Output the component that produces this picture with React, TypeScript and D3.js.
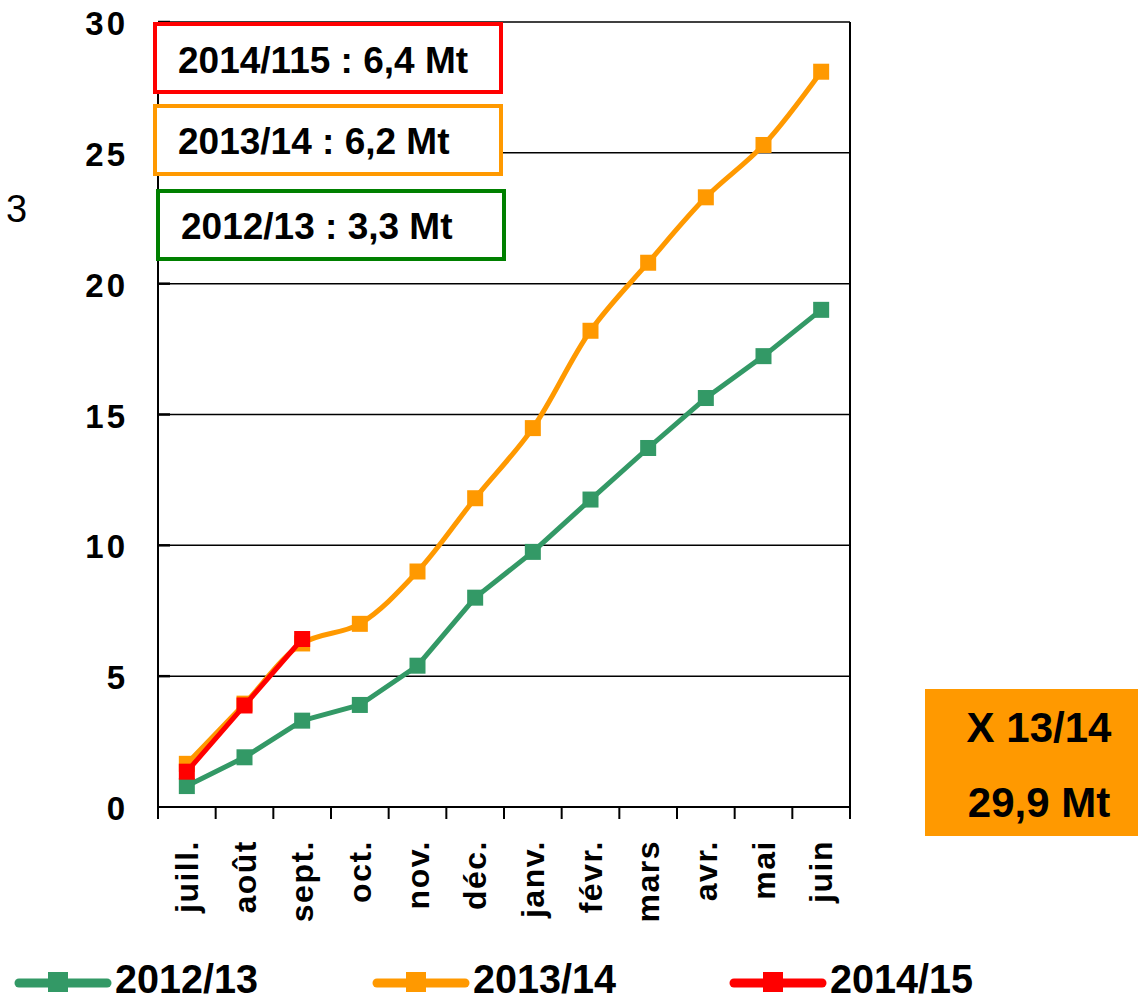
import React, { useEffect, useRef } from "react";
import * as d3 from "d3";

const months = ["juill.", "août", "sept.", "oct.", "nov.", "déc.", "janv.", "févr.", "mars", "avr.", "mai", "juin"];
const values1213 = [0.8, 1.9, 3.3, 3.9, 5.4, 8.0, 9.75, 11.75, 13.72, 15.63, 17.23, 19.0];
const values1314 = [1.65, 3.95, 6.25, 7.0, 9.0, 11.8, 14.48, 18.2, 20.8, 23.3, 25.3, 28.1];
const values1415 = [1.35, 3.88, 6.42];
const yTicks = [0, 5, 10, 15, 20, 25, 30];

const series = [
  { name: "2012/13", values: values1213, color: "#339966", smooth: false },
  { name: "2013/14", values: values1314, color: "#FF9900", smooth: true },
  { name: "2014/15", values: values1415, color: "#FF0000", smooth: false },
];

const boxes = [
  { label: "2014/115 : 6,4 Mt", color: "#FF0000", x: 153, y: 22, tx: 178, ty: 73 },
  { label: "2013/14 : 6,2 Mt", color: "#FF9900", x: 153, y: 104, tx: 178, ty: 154 },
  { label: "2012/13 : 3,3 Mt", color: "#008000", x: 156, y: 189, tx: 181, ty: 239 },
];

const App = () => {
  const ref = useRef<SVGSVGElement>(null);

  useEffect(() => {
    const svg = d3.select(ref.current);
    svg.selectAll("*").remove();

    const left = 158, right = 850, top = 22, bottom = 807;
    const x = d3.scaleBand().domain(months).range([left, right]);
    const y = d3.scaleLinear().domain([0, 30]).range([bottom, top]);
    const font = "Arial, 'Liberation Sans', sans-serif";

    // gridlines
    svg.append("g")
      .selectAll("line")
      .data(yTicks.filter((d) => d > 0))
      .enter()
      .append("line")
      .attr("x1", left)
      .attr("x2", right)
      .attr("y1", (d) => y(d))
      .attr("y2", (d) => y(d))
      .attr("stroke", "#000")
      .attr("stroke-width", 1.5);
    svg.append("g")
      .selectAll("line")
      .data(yTicks.filter((d) => d > 0))
      .enter()
      .append("line")
      .attr("x1", left)
      .attr("x2", left + 12)
      .attr("y1", (d) => y(d))
      .attr("y2", (d) => y(d))
      .attr("stroke", "#000")
      .attr("stroke-width", 2.5);

    // frame
    svg.append("line").attr("x1", left).attr("x2", left).attr("y1", top).attr("y2", bottom + 12)
      .attr("stroke", "#000").attr("stroke-width", 2);
    svg.append("line").attr("x1", right).attr("x2", right).attr("y1", top).attr("y2", bottom + 12)
      .attr("stroke", "#000").attr("stroke-width", 2);
    svg.append("line").attr("x1", left).attr("x2", right).attr("y1", bottom).attr("y2", bottom)
      .attr("stroke", "#000").attr("stroke-width", 2);

    // x ticks
    const edges = months.map((m) => x(m) as number).concat([right]);
    svg.append("g")
      .selectAll("line")
      .data(edges)
      .enter()
      .append("line")
      .attr("x1", (d) => d)
      .attr("x2", (d) => d)
      .attr("y1", bottom)
      .attr("y2", bottom + 12)
      .attr("stroke", "#000")
      .attr("stroke-width", 2);

    // y labels
    svg.append("g")
      .selectAll("text")
      .data(yTicks)
      .enter()
      .append("text")
      .attr("x", 128)
      .attr("y", (d) => y(d) + 13)
      .attr("text-anchor", "end")
      .attr("font-family", font)
      .attr("font-weight", "bold")
      .attr("font-size", 33)
      .attr("letter-spacing", 3)
      .text((d) => d);

    // x labels
    svg.append("g")
      .selectAll("text")
      .data(months)
      .enter()
      .append("text")
      .attr("transform", (d) => `translate(${(x(d) as number) + x.bandwidth() / 2 + 11},840) rotate(-90)`)
      .attr("text-anchor", "end")
      .attr("font-family", font)
      .attr("font-weight", "bold")
      .attr("font-size", 32)
      .attr("letter-spacing", 1.5)
      .text((d) => d);

    // series
    series.forEach((s) => {
      const pts = s.values.map((v, i) => [(x(months[i]) as number) + x.bandwidth() / 2, y(v)] as [number, number]);
      const line = d3.line().curve(s.smooth ? d3.curveCatmullRom.alpha(0.5) : d3.curveLinear);
      svg.append("path")
        .attr("d", line(pts))
        .attr("fill", "none")
        .attr("stroke", s.color)
        .attr("stroke-width", 5)
        .attr("stroke-linejoin", "round");
      svg.append("g")
        .selectAll("rect")
        .data(pts)
        .enter()
        .append("rect")
        .attr("x", (d) => d[0] - 8)
        .attr("y", (d) => d[1] - 8)
        .attr("width", 16)
        .attr("height", 16)
        .attr("fill", s.color);
    });

    // annotation boxes
    boxes.forEach((b) => {
      svg.append("rect")
        .attr("x", b.x + 2)
        .attr("y", b.y + 2)
        .attr("width", 346)
        .attr("height", 68)
        .attr("fill", "#fff")
        .attr("stroke", b.color)
        .attr("stroke-width", 4);
      svg.append("text")
        .attr("x", b.tx)
        .attr("y", b.ty)
        .attr("font-family", font)
        .attr("font-weight", "bold")
        .attr("font-size", 37)
        .text(b.label);
    });

    svg.append("text")
      .attr("x", 6)
      .attr("y", 222)
      .attr("font-family", font)
      .attr("font-size", 38)
      .text("3");

    // orange total box
    svg.append("rect").attr("x", 925).attr("y", 689).attr("width", 213).attr("height", 147).attr("fill", "#FF9900");
    svg.append("text").attr("x", 1039).attr("y", 742).attr("text-anchor", "middle")
      .attr("font-family", font).attr("font-weight", "bold").attr("font-size", 42).text("X 13/14");
    svg.append("text").attr("x", 1039).attr("y", 817).attr("text-anchor", "middle")
      .attr("font-family", font).attr("font-weight", "bold").attr("font-size", 42).text("29,9 Mt");

    // legend
    const legX = [15, 373, 730];
    series.forEach((s, i) => {
      const lx = legX[i];
      svg.append("line").attr("x1", lx + 4).attr("x2", lx + 92).attr("y1", 983).attr("y2", 983)
        .attr("stroke", s.color).attr("stroke-width", 9).attr("stroke-linecap", "round");
      svg.append("rect").attr("x", lx + 33).attr("y", 972).attr("width", 20).attr("height", 20).attr("fill", s.color);
      svg.append("text").attr("x", lx + 100).attr("y", 993)
        .attr("font-family", font)
        .attr("font-weight", "bold").attr("font-size", 40)
        .attr("textLength", 143).attr("lengthAdjust", "spacingAndGlyphs")
        .text(s.name);
    });
  }, []);

  return (
    <svg ref={ref} width={1138} height={1003} style={{ position: "absolute", left: 0, top: 0, background: "#fff" }} />
  );
};

export default App;
